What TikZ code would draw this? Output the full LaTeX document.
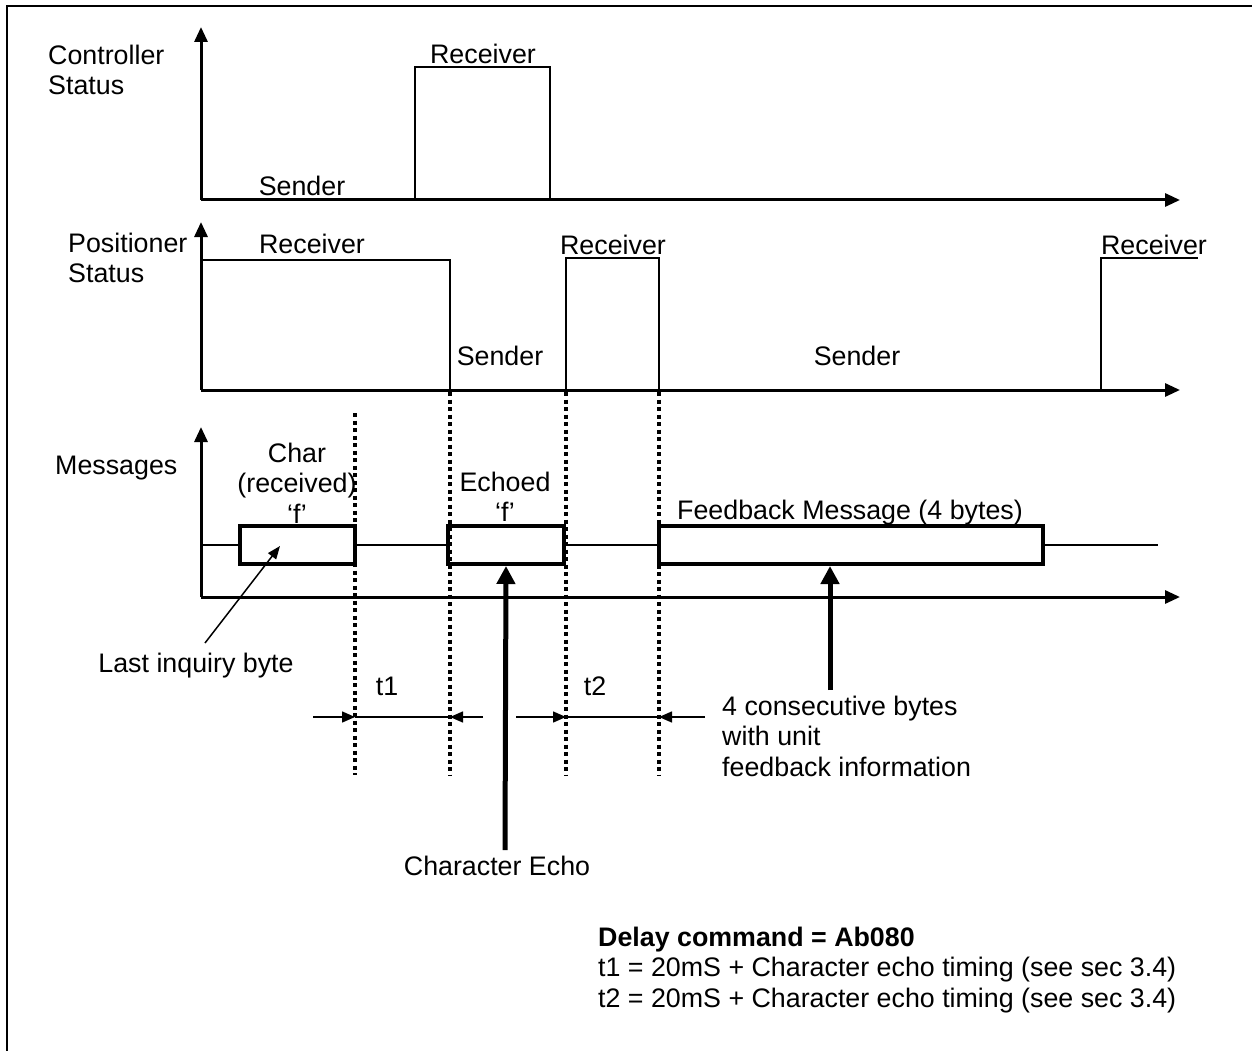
\documentclass[tikz,border=0pt]{standalone}
\usepackage{fontspec}
\setmainfont{Liberation Sans}
\usetikzlibrary{arrows.meta}
\begin{document}
\begin{tikzpicture}[x=1pt,y=-1pt,
  lbl/.style={inner sep=0pt,font=\fontsize{26.8}{30.5}\selectfont,align=center},
  lbll/.style={inner sep=0pt,font=\fontsize{26.8}{30.5}\selectfont,align=left,anchor=west},
  axis/.style={line width=3pt,-{Triangle[length=15pt,width=13pt]}},
  wave/.style={line width=2pt,line join=miter},
  sig/.style={line width=1.5pt},
  msgbox/.style={draw,line width=4pt,minimum height=38pt,inner sep=0pt},
  dots/.style={line width=4.5pt,dash pattern=on 4pt off 3.5pt},
  dimarr/.style={line width=1.5pt,-{Triangle[length=13pt,width=11pt]}},
  bigarr/.style={line width=5pt,-{Triangle[length=18pt,width=18pt]}},
  thinarr/.style={line width=1.5pt,-{Triangle[length=13pt,width=10pt]}}]
\useasboundingbox (0,0) rectangle (1252,1051);
% frame
\draw[line width=2pt] (7,1051) -- (7,6) -- (1252,6);

% ---------------- Controller status ----------------
\coordinate (c0) at (201,200);
\draw[axis] (c0) -- (201,27);
\draw[axis] (c0) -- (1180,200);
\draw[wave] (415,200) -- (415,67) -- (550,67) -- (550,200);
\node[lbll] (ctrl) at (48,70) {Controller\\Status};
\node[lbl] (crecv) at (483,54) {Receiver};
\node[lbl] (csend) at (302,186) {Sender};

% ---------------- Positioner status ----------------
\coordinate (p0) at (201,390);
\draw[axis] (p0) -- (201,222);
\draw[axis] (p0) -- (1180,390);
\draw[wave] (201,260) -- (450,260) -- (450,390);
\draw[wave] (566,390) -- (566,258) -- (659,258) -- (659,390);
\draw[wave] (1101,390) -- (1101,258) -- (1198,258);
\node[lbll] (pos) at (68,258) {Positioner\\Status};
\node[lbl] (precv1) at (312,244) {Receiver};
\node[lbl] (psend1) at (500,356) {Sender};
\node[lbl] (precv2) at (613,245) {Receiver};
\node[lbl] (psend2) at (857,356) {Sender};
\node[lbl] (precv3) at (1154,245) {Receiver};

% ---------------- Messages ----------------
\coordinate (m0) at (201,597);
\draw[axis] (m0) -- (201,427);
\draw[axis] (m0) -- (1180,597);
\node[lbll] (msg) at (55,468) {Messages};

\node[msgbox,minimum width=115pt] (b1) at (297.5,545) {};
\node[msgbox,minimum width=116pt] (b2) at (506,545) {};
\node[msgbox,minimum width=384pt] (b3) at (851,545) {};
\coordinate (s0) at (201,545);
\coordinate (s1) at (1158,545);
\draw[sig] (s0) -- (b1.west);
\draw[sig] (b1.east) -- (b2.west);
\draw[sig] (b2.east) -- (b3.west);
\draw[sig] (b3.east) -- (s1);

% dotted guide lines
\draw[dots] (355,413) -- (355,775);
\draw[dots] (450,392) -- (450,775);
\draw[dots] (566,392) -- (566,775);
\draw[dots] (659,392) -- (659,775);

\node[lbl] (char) at (297,483) {Char\\(received)\\‘f’};
\node[lbl] (echoed) at (505,497) {Echoed\\‘f’};
\node[lbl] (fb) at (850,513) {Feedback Message (4 bytes)};

% last inquiry byte
\node[lbl] (last) at (196,666) {Last inquiry byte};
\draw[thinarr] (205,643) -- (280,546);

% character echo
\node[lbl] (cecho) at (497,866) {Character Echo};
\draw[bigarr] (505,850) -- (b2.south);

% feedback info
\node[lbll] (info) at (722,736) {4 consecutive bytes\\with unit\\feedback information};
\coordinate (fbs) at (830,690);
\draw[bigarr] (fbs) -- (830,566);

% t1 / t2
\node[lbl] (t1) at (387,686) {t1};
\node[lbl] (t2) at (595,686) {t2};
\coordinate (t1a) at (313,717); \coordinate (t1b) at (355,717);
\coordinate (t1c) at (450,717); \coordinate (t1d) at (483,717);
\draw[dimarr] (t1a) -- (t1b);
\draw[line width=1.5pt] (t1b) -- (t1c);
\draw[dimarr] (t1d) -- (t1c);
\coordinate (t2a) at (516,717); \coordinate (t2b) at (566,717);
\coordinate (t2c) at (659,717); \coordinate (t2d) at (705,717);
\draw[dimarr] (t2a) -- (t2b);
\draw[line width=1.5pt] (t2b) -- (t2c);
\draw[dimarr] (t2d) -- (t2c);

% delay notes
\node[lbll] (delay) at (598,970) {\textbf{Delay command = Ab080}\\t1 = 20mS + Character echo timing (see sec 3.4)\\t2 = 20mS + Character echo timing (see sec 3.4)};
\end{tikzpicture}
\end{document}
